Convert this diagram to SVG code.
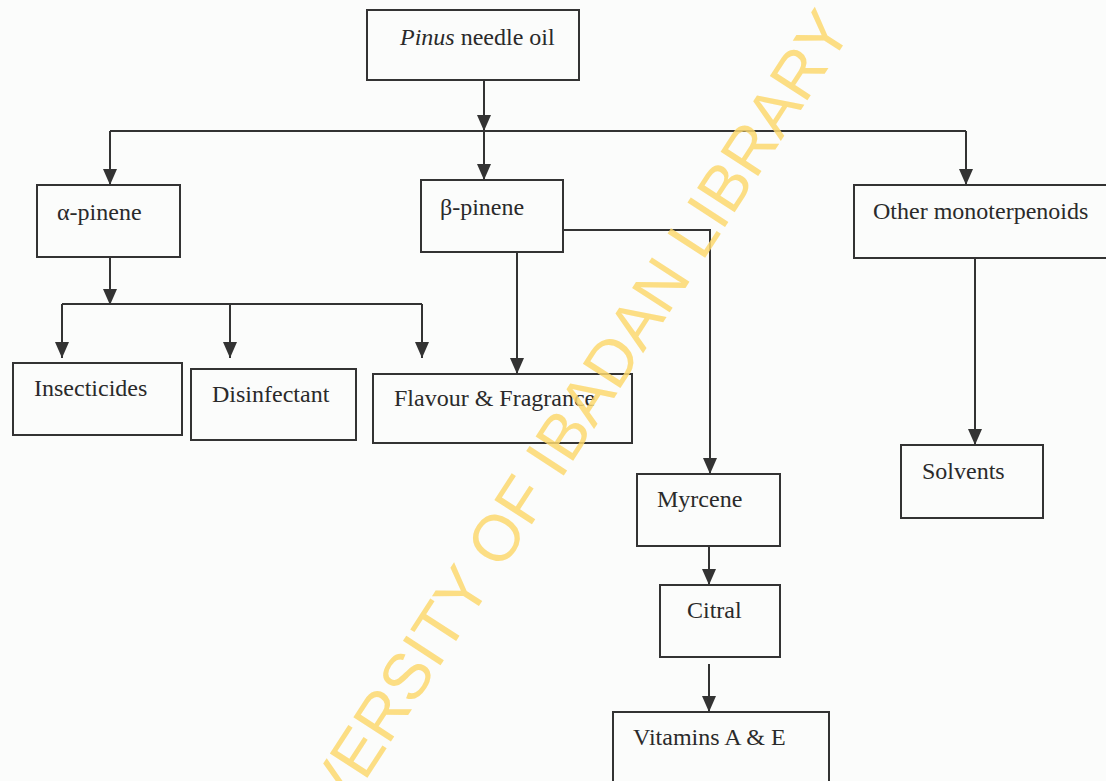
<svg xmlns="http://www.w3.org/2000/svg" width="1106" height="781" viewBox="0 0 1106 781">
<style>
.box{fill:none;stroke:#333;stroke-width:2}
.lbl{font-family:"Liberation Serif","Times New Roman",serif;font-size:24px;fill:#2a2a2a}
.ln{fill:none;stroke:#333;stroke-width:2}
.arr{fill:none;stroke:#333;stroke-width:2;marker-end:url(#ah)}
.wm{font-family:"Liberation Sans",Arial,sans-serif;font-size:65px;fill:#fbd86f;fill-opacity:0.85}
</style>
<defs>
<marker id="ah" viewBox="0 0 16 14" refX="16" refY="7" markerWidth="16" markerHeight="14" markerUnits="userSpaceOnUse" orient="auto">
<path d="M0,0 L16,7 L0,14 z" fill="#333"/>
</marker>
</defs>
<rect width="1106" height="781" fill="#fbfcfb"/>
<g id="connectors">
<line class="arr" x1="484" y1="80" x2="484" y2="131"/>
<line class="ln" x1="110" y1="131" x2="966" y2="131"/>
<line class="arr" x1="110" y1="131" x2="110" y2="185"/>
<line class="arr" x1="484" y1="131" x2="484" y2="180"/>
<line class="arr" x1="966" y1="131" x2="966" y2="185"/>
<line class="arr" x1="110" y1="257" x2="110" y2="305"/>
<line class="ln" x1="62" y1="304" x2="422" y2="304"/>
<line class="arr" x1="62" y1="304" x2="62" y2="358"/>
<line class="arr" x1="230" y1="304" x2="230" y2="358"/>
<line class="arr" x1="422" y1="304" x2="422" y2="358"/>
<line class="arr" x1="517" y1="252" x2="517" y2="374"/>
<polyline class="arr" points="563,230 710,230 710,474"/>
<line class="arr" x1="709" y1="546" x2="709" y2="585"/>
<line class="arr" x1="709" y1="664" x2="709" y2="712"/>
<line class="arr" x1="975" y1="258" x2="975" y2="445"/>
</g>
<g id="pinus"><rect class="box" x="367" y="10" width="212" height="70"/><text class="lbl" x="400" y="45"><tspan font-style="italic">Pinus</tspan> needle oil</text></g>
<g id="alpha"><rect class="box" x="37" y="185" width="143" height="72"/><text class="lbl" x="57" y="220">α-pinene</text></g>
<g id="beta"><rect class="box" x="421" y="180" width="142" height="72"/><text class="lbl" x="440" y="215">β-pinene</text></g>
<g id="other"><rect class="box" x="854" y="185" width="260" height="73"/><text class="lbl" x="873" y="219">Other monoterpenoids</text></g>
<g id="insecticides"><rect class="box" x="13" y="363" width="169" height="72"/><text class="lbl" x="34" y="396">Insecticides</text></g>
<g id="disinfectant"><rect class="box" x="191" y="369" width="165" height="71"/><text class="lbl" x="212" y="402">Disinfectant</text></g>
<g id="flavour"><rect class="box" x="373" y="374" width="259" height="69"/><text class="lbl" x="394" y="406">Flavour &amp; Fragrance</text></g>
<g id="myrcene"><rect class="box" x="637" y="474" width="143" height="72"/><text class="lbl" x="657" y="507">Myrcene</text></g>
<g id="citral"><rect class="box" x="660" y="585" width="120" height="72"/><text class="lbl" x="687" y="618">Citral</text></g>
<g id="vitamins"><rect class="box" x="613" y="712" width="216" height="80"/><text class="lbl" x="633" y="745">Vitamins A &amp; E</text></g>
<g id="solvents"><rect class="box" x="901" y="445" width="142" height="73"/><text class="lbl" x="922" y="479">Solvents</text></g>
<text class="wm" x="853" y="30" text-anchor="end" transform="rotate(-57 853 30)">UNIVERSITY OF IBADAN LIBRARY</text>
</svg>
